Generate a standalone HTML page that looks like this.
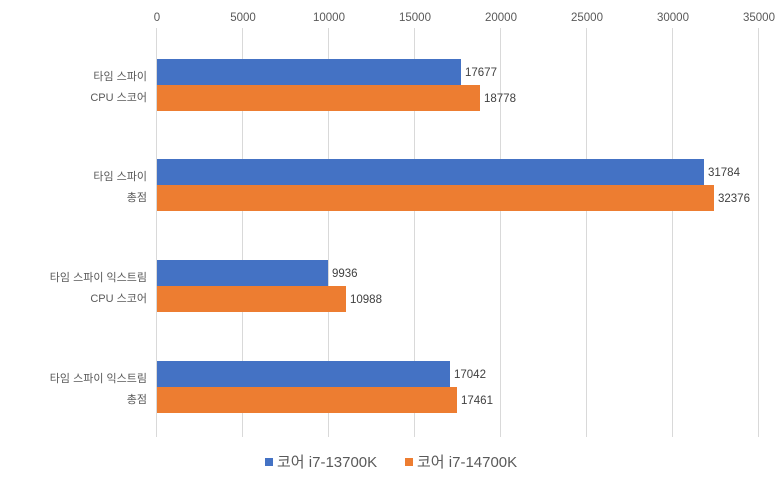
<!DOCTYPE html>
<html><head><meta charset="utf-8"><style>
body{margin:0;background:#fff;}
svg{display:block;font-family:"Liberation Sans","Noto Sans CJK KR",sans-serif;}
</style></head><body>
<svg width="780" height="478" viewBox="0 0 780 478">
<rect x="0" y="0" width="780" height="478" fill="#fff"/>
<g stroke="#d9d9d9" stroke-width="1">
<line x1="156.5" y1="28" x2="156.5" y2="437"/>
<line x1="242.5" y1="28" x2="242.5" y2="437"/>
<line x1="328.5" y1="28" x2="328.5" y2="437"/>
<line x1="414.5" y1="28" x2="414.5" y2="437"/>
<line x1="500.5" y1="28" x2="500.5" y2="437"/>
<line x1="586.5" y1="28" x2="586.5" y2="437"/>
<line x1="672.5" y1="28" x2="672.5" y2="437"/>
<line x1="758.5" y1="28" x2="758.5" y2="437"/>
</g>
<g font-size="11.5" fill="#595959" text-anchor="middle">
<text x="157" y="21">0</text><text x="243" y="21">5000</text><text x="329" y="21">10000</text><text x="415" y="21">15000</text><text x="501" y="21">20000</text><text x="587" y="21">25000</text><text x="673" y="21">30000</text><text x="759" y="21">35000</text>
</g>
<g fill="#4472c4">
<rect x="157" y="59" width="304" height="26"/>
<rect x="157" y="159" width="547" height="26"/>
<rect x="157" y="260" width="171" height="26"/>
<rect x="157" y="361" width="293" height="26"/>
</g>
<g fill="#ed7d31">
<rect x="157" y="85" width="323" height="26"/>
<rect x="157" y="185" width="557" height="26"/>
<rect x="157" y="286" width="189" height="26"/>
<rect x="157" y="387" width="300" height="26"/>
</g>
<g font-size="11.5" fill="#404040">
<text x="465" y="76">17677</text><text x="484" y="102">18778</text>
<text x="708" y="176">31784</text><text x="718" y="202">32376</text>
<text x="332" y="277">9936</text><text x="350" y="303">10988</text>
<text x="454" y="378">17042</text><text x="461" y="404">17461</text>
</g>
<g font-size="11" fill="#595959" text-anchor="end">
<text x="147" y="80">타임 스파이</text><text x="147" y="101">CPU 스코어</text>
<text x="147" y="180">타임 스파이</text><text x="147" y="201">총점</text>
<text x="147" y="281">타임 스파이 익스트림</text><text x="147" y="302">CPU 스코어</text>
<text x="147" y="382">타임 스파이 익스트림</text><text x="147" y="403">총점</text>
</g>
<rect x="265" y="458" width="8" height="8" fill="#4472c4"/>
<text x="277" y="467" font-size="15" fill="#595959">코어 i7-13700K</text>
<rect x="405" y="458" width="8" height="8" fill="#ed7d31"/>
<text x="417" y="467" font-size="15" fill="#595959">코어 i7-14700K</text>
</svg>
</body></html>
